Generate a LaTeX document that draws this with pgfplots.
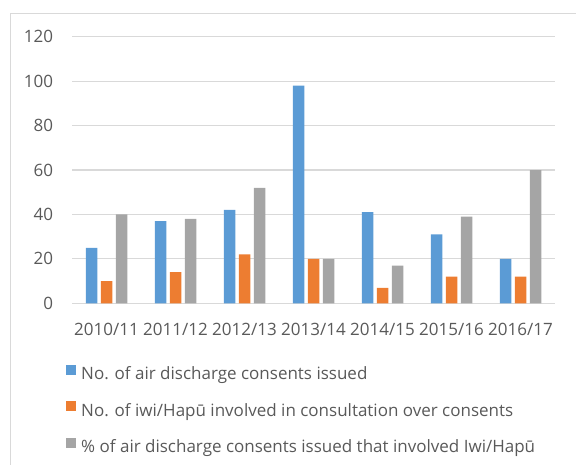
\documentclass[border=0pt]{standalone}
\usepackage{pgfplots}
\pgfplotsset{compat=1.18}
\usepackage{fontspec}
\setmainfont{Open Sans}
\definecolor{barblue}{HTML}{5B9BD5}
\definecolor{barorange}{HTML}{ED7D31}
\definecolor{bargray}{HTML}{A5A5A5}
\definecolor{gridgray}{HTML}{D9D9D9}
\definecolor{textgray}{HTML}{595959}
\newcommand{\chartfont}{\fontsize{17bp}{20bp}\selectfont}

\begin{document}
\begin{tikzpicture}[x=1bp,y=1bp]
\begin{axis}[
  at={(72bp,-303.3bp)}, anchor=south west,
  scale only axis, width=483bp, height=266.6bp,
  xmin=-0.5, xmax=6.5, ymin=0, ymax=120,
  ytick={0,20,...,120},
  xtick={0,...,6},
  xticklabels={2010/11,2011/12,2012/13,2013/14,2014/15,2015/16,2016/17},
  ymajorgrids, grid style={gridgray, line width=1.1bp},
  axis line style={draw=none},
  major tick length=0pt,
  ybar, bar width=11.5bp,
  tick label style={font=\chartfont, text=textgray},
  yticklabel style={anchor=east, inner sep=0pt, xshift=-18.7bp},
  xticklabel style={anchor=base, inner sep=0pt, yshift=-32.4bp},
  /pgf/number format/assume math mode=true,
  legend cell align=left,
  legend image code/.code={\fill[#1] (0bp,1bp) rectangle (10bp,11bp);},
  legend style={
    at={(-0.0124,-0.2303)}, anchor=north west,
    draw=none, fill=none, inner sep=0pt,
    font=\chartfont, text=textgray,
    nodes={inner sep=0pt, text height=12bp, text depth=4bp},
    row sep=17.3bp,
    /tikz/every odd column/.append style={column sep=5bp},
  },
]
\addplot[fill=barblue, draw=none, bar shift=-15bp]
  coordinates {(0,25) (1,37) (2,42) (3,98) (4,41) (5,31) (6,20)};
\addplot[fill=barorange, draw=none, bar shift=0bp]
  coordinates {(0,10) (1,14) (2,22) (3,20) (4,7) (5,12) (6,12)};
\addplot[fill=bargray, draw=none, bar shift=15bp]
  coordinates {(0,40) (1,38) (2,52) (3,20) (4,17) (5,39) (6,60)};
\legend{No. of air discharge consents issued,
        No. of iwi/Hapū involved in consultation over consents,
        \% of air discharge consents issued that involved Iwi/Hapū}
\end{axis}
% chart area frame
\draw[gridgray, line width=1.3bp] (10.5,-480) -- (10.5,-13.5) -- (600,-13.5);
\pgfresetboundingbox
\path[use as bounding box] (0,0) rectangle (576,-465);
\end{tikzpicture}
\end{document}
